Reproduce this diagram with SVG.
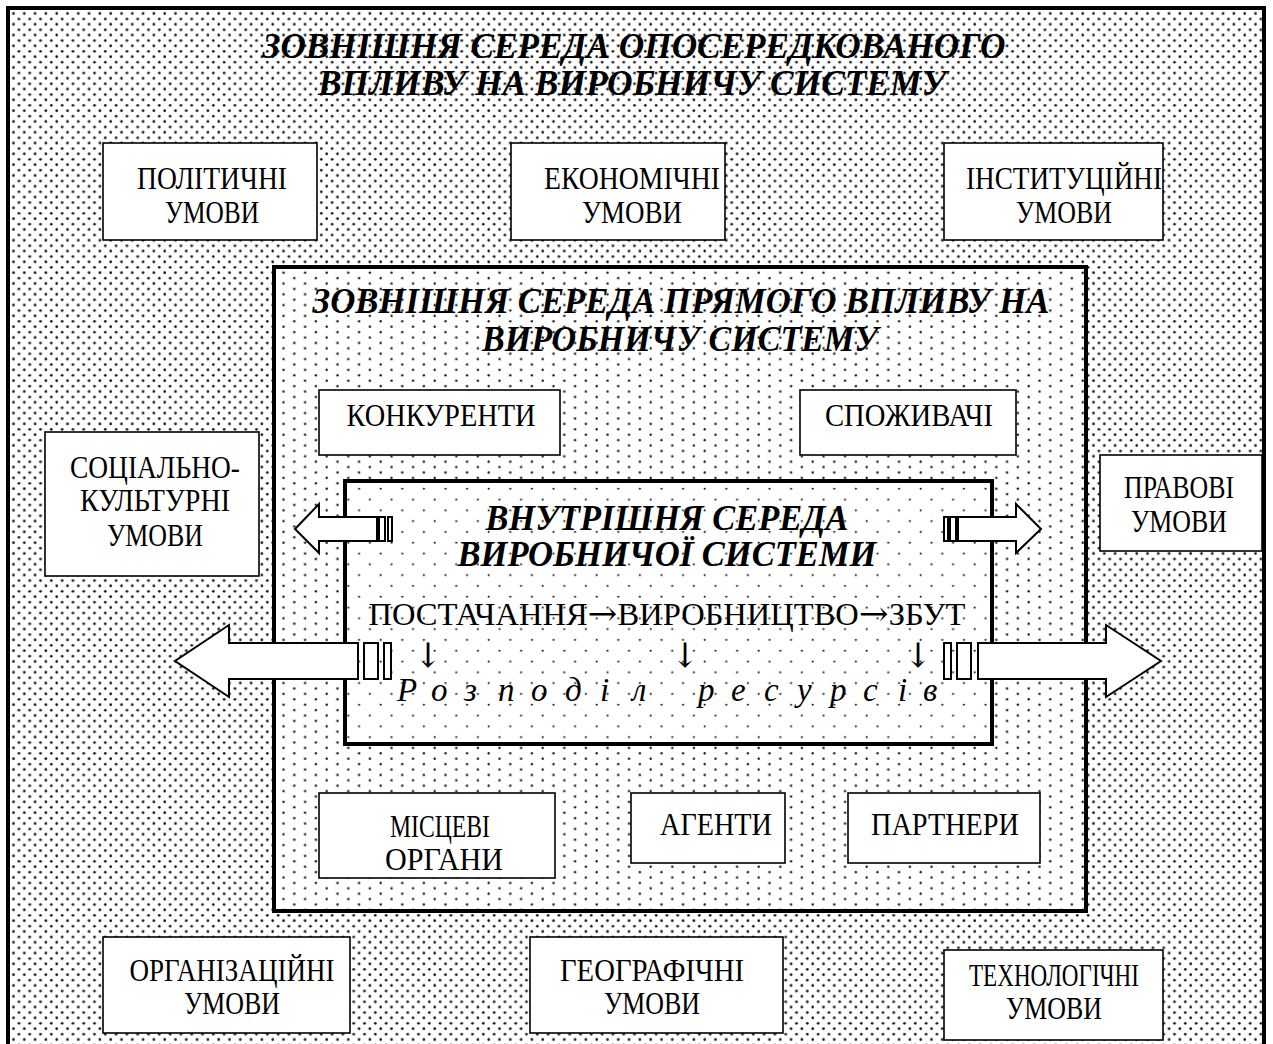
<svg xmlns="http://www.w3.org/2000/svg" width="1273" height="1044" viewBox="0 0 1273 1044">
<style>
.box{fill:#fff;stroke:#000;stroke-width:1.6}
.frame{stroke:#000;stroke-width:4}
.t{font-family:"Liberation Serif","Times New Roman",serif;font-size:31px;fill:#000;text-anchor:middle}
.sym{font-family:"DejaVu Serif","DejaVu Sans",serif;font-size:34px;fill:#000}
.h{font-family:"Liberation Serif","Times New Roman",serif;font-size:35px;font-weight:bold;font-style:italic;fill:#000;text-anchor:middle}
.it{font-family:"Liberation Serif","Times New Roman",serif;font-size:33px;font-style:italic;fill:#000}
.arr{fill:#fff;stroke:#000;stroke-width:2;stroke-linejoin:miter}
</style>
<defs>
<pattern id="pOuter" patternUnits="userSpaceOnUse" width="10.8" height="10.8">
<rect width="10.8" height="10.8" fill="#fff"/>
<circle cx="2.7" cy="2.7" r="1.35" fill="#1a1a1a"/>
<circle cx="8.1" cy="8.1" r="1.35" fill="#1a1a1a"/>
</pattern>
<pattern id="pMid" patternUnits="userSpaceOnUse" width="21.6" height="10.8">
<rect width="21.6" height="10.8" fill="#fff"/>
<circle cx="2.7" cy="2.7" r="1.2" fill="#1a1a1a"/>
<circle cx="13.5" cy="8.1" r="1.2" fill="#1a1a1a"/>
</pattern>
<pattern id="pIn" patternUnits="userSpaceOnUse" width="21.6" height="21.6">
<rect width="21.6" height="21.6" fill="#fff"/>
<circle cx="2.7" cy="2.7" r="1.1" fill="#1a1a1a"/>
<circle cx="13.5" cy="13.5" r="1.1" fill="#1a1a1a"/>
</pattern>
</defs>
<rect width="1273" height="1044" fill="#fff"/>

<g id="outer-env">
<rect class="frame" x="8" y="8" width="1256" height="1060" fill="url(#pOuter)"/>
<text class="h" x="634" y="58" textLength="743" lengthAdjust="spacingAndGlyphs">ЗОВНІШНЯ СЕРЕДА ОПОСЕРЕДКОВАНОГО</text>
<text class="h" x="632" y="95" textLength="628" lengthAdjust="spacingAndGlyphs">ВПЛИВУ НА ВИРОБНИЧУ СИСТЕМУ</text>
</g>

<g id="political">
<rect class="box" x="103" y="143" width="214" height="97"/>
<text class="t" x="212" y="189" textLength="150" lengthAdjust="spacingAndGlyphs">ПОЛІТИЧНІ</text>
<text class="t" x="212" y="223" textLength="94" lengthAdjust="spacingAndGlyphs">УМОВИ</text>
</g>
<g id="economic">
<rect class="box" x="511" y="143" width="214" height="97"/>
<text class="t" x="632" y="189" textLength="176" lengthAdjust="spacingAndGlyphs">ЕКОНОМІЧНІ</text>
<text class="t" x="632" y="223" textLength="100" lengthAdjust="spacingAndGlyphs">УМОВИ</text>
</g>
<g id="institutional">
<rect class="box" x="944" y="143" width="219" height="97"/>
<text class="t" x="1064" y="189" textLength="196" lengthAdjust="spacingAndGlyphs">ІНСТИТУЦІЙНІ</text>
<text class="t" x="1064" y="223" textLength="96" lengthAdjust="spacingAndGlyphs">УМОВИ</text>
</g>
<g id="sociocultural">
<rect class="box" x="45" y="432" width="214" height="144"/>
<text class="t" x="155" y="478" textLength="170" lengthAdjust="spacingAndGlyphs">СОЦІАЛЬНО-</text>
<text class="t" x="155" y="511" textLength="150" lengthAdjust="spacingAndGlyphs">КУЛЬТУРНІ</text>
<text class="t" x="155" y="546" textLength="96" lengthAdjust="spacingAndGlyphs">УМОВИ</text>
</g>
<g id="legal">
<rect class="box" x="1100" y="455" width="162" height="96"/>
<text class="t" x="1179" y="498" textLength="110" lengthAdjust="spacingAndGlyphs">ПРАВОВІ</text>
<text class="t" x="1179" y="532" textLength="96" lengthAdjust="spacingAndGlyphs">УМОВИ</text>
</g>
<g id="organizational">
<rect class="box" x="103" y="937" width="247" height="96"/>
<text class="t" x="232" y="981" textLength="205" lengthAdjust="spacingAndGlyphs">ОРГАНІЗАЦІЙНІ</text>
<text class="t" x="232" y="1014" textLength="96" lengthAdjust="spacingAndGlyphs">УМОВИ</text>
</g>
<g id="geographic">
<rect class="box" x="530" y="937" width="253" height="96"/>
<text class="t" x="652" y="981" textLength="184" lengthAdjust="spacingAndGlyphs">ГЕОГРАФІЧНІ</text>
<text class="t" x="652" y="1014" textLength="96" lengthAdjust="spacingAndGlyphs">УМОВИ</text>
</g>
<g id="technological">
<rect class="box" x="944" y="950" width="219" height="90"/>
<text class="t" x="1054" y="986" textLength="170" lengthAdjust="spacingAndGlyphs">ТЕХНОЛОГІЧНІ</text>
<text class="t" x="1054" y="1019" textLength="96" lengthAdjust="spacingAndGlyphs">УМОВИ</text>
</g>

<g id="direct-env">
<rect class="frame" x="274" y="267" width="812" height="644" fill="url(#pMid)"/>
<text class="h" x="681" y="313" textLength="737" lengthAdjust="spacingAndGlyphs">ЗОВНІШНЯ СЕРЕДА ПРЯМОГО ВПЛИВУ НА</text>
<text class="h" x="680" y="351" textLength="396" lengthAdjust="spacingAndGlyphs">ВИРОБНИЧУ СИСТЕМУ</text>
</g>
<g id="competitors">
<rect class="box" x="319" y="390" width="241" height="65"/>
<text class="t" x="441" y="426" textLength="189" lengthAdjust="spacingAndGlyphs">КОНКУРЕНТИ</text>
</g>
<g id="consumers">
<rect class="box" x="800" y="390" width="216" height="65"/>
<text class="t" x="909" y="426" textLength="168" lengthAdjust="spacingAndGlyphs">СПОЖИВАЧІ</text>
</g>
<g id="local-authorities">
<rect class="box" x="319" y="793" width="236" height="85"/>
<text class="t" x="440" y="837" textLength="100" lengthAdjust="spacingAndGlyphs">МІСЦЕВІ</text>
<text class="t" x="444" y="870" textLength="118" lengthAdjust="spacingAndGlyphs">ОРГАНИ</text>
</g>
<g id="agents">
<rect class="box" x="631" y="793" width="154" height="70"/>
<text class="t" x="716" y="835" textLength="112" lengthAdjust="spacingAndGlyphs">АГЕНТИ</text>
</g>
<g id="partners">
<rect class="box" x="848" y="793" width="192" height="70"/>
<text class="t" x="945" y="835" textLength="148" lengthAdjust="spacingAndGlyphs">ПАРТНЕРИ</text>
</g>

<g id="internal-env">
<rect class="frame" x="345" y="481" width="647" height="263" fill="url(#pIn)"/>
<text class="h" x="667" y="530" textLength="363" lengthAdjust="spacingAndGlyphs">ВНУТРІШНЯ СЕРЕДА</text>
<text class="h" x="667" y="566" textLength="419" lengthAdjust="spacingAndGlyphs">ВИРОБНИЧОЇ СИСТЕМИ</text>
<text class="t" x="667" y="625" textLength="597" lengthAdjust="spacingAndGlyphs">ПОСТАЧАННЯ<tspan class="sym" font-size="26">→</tspan>ВИРОБНИЦТВО<tspan class="sym" font-size="26">→</tspan>ЗБУТ</text>
<text class="sym" x="428" y="667" text-anchor="middle">↓</text>
<text class="sym" x="685" y="667" text-anchor="middle">↓</text>
<text class="sym" x="918" y="667" text-anchor="middle">↓</text>
<text class="it" y="701"><tspan x="397">Р</tspan><tspan x="431">о</tspan><tspan x="464">з</tspan><tspan x="498">п</tspan><tspan x="531">о</tspan><tspan x="565">д</tspan><tspan x="600">і</tspan><tspan x="632">л</tspan><tspan x="698">р</tspan><tspan x="731">е</tspan><tspan x="764">с</tspan><tspan x="797">у</tspan><tspan x="830">р</tspan><tspan x="863">с</tspan><tspan x="898">і</tspan><tspan x="923">в</tspan></text>
</g>

<g id="connectors">
<path class="arr" d="M377,517 H319 V504 L295,529 L319,553 V541 H377 Z"/>
<rect class="arr" x="379" y="517" width="6" height="24"/>
<rect class="arr" x="388" y="517" width="4" height="24"/>
<path class="arr" d="M958,517 H1016 V504 L1041,529 L1016,553 V541 H958 Z"/>
<rect class="arr" x="944" y="517" width="4" height="24"/>
<rect class="arr" x="950" y="517" width="6" height="24"/>
<path class="arr" d="M358,643 H229 V625 L175,661 L229,697 V679 H358 Z"/>
<rect class="arr" x="364" y="643" width="14" height="36"/>
<rect class="arr" x="384" y="643" width="7" height="36"/>
<path class="arr" d="M978,643 H1106 V625 L1161,661 L1106,697 V679 H978 Z"/>
<rect class="arr" x="944" y="643" width="7" height="36"/>
<rect class="arr" x="957" y="643" width="14" height="36"/>
</g>
</svg>
